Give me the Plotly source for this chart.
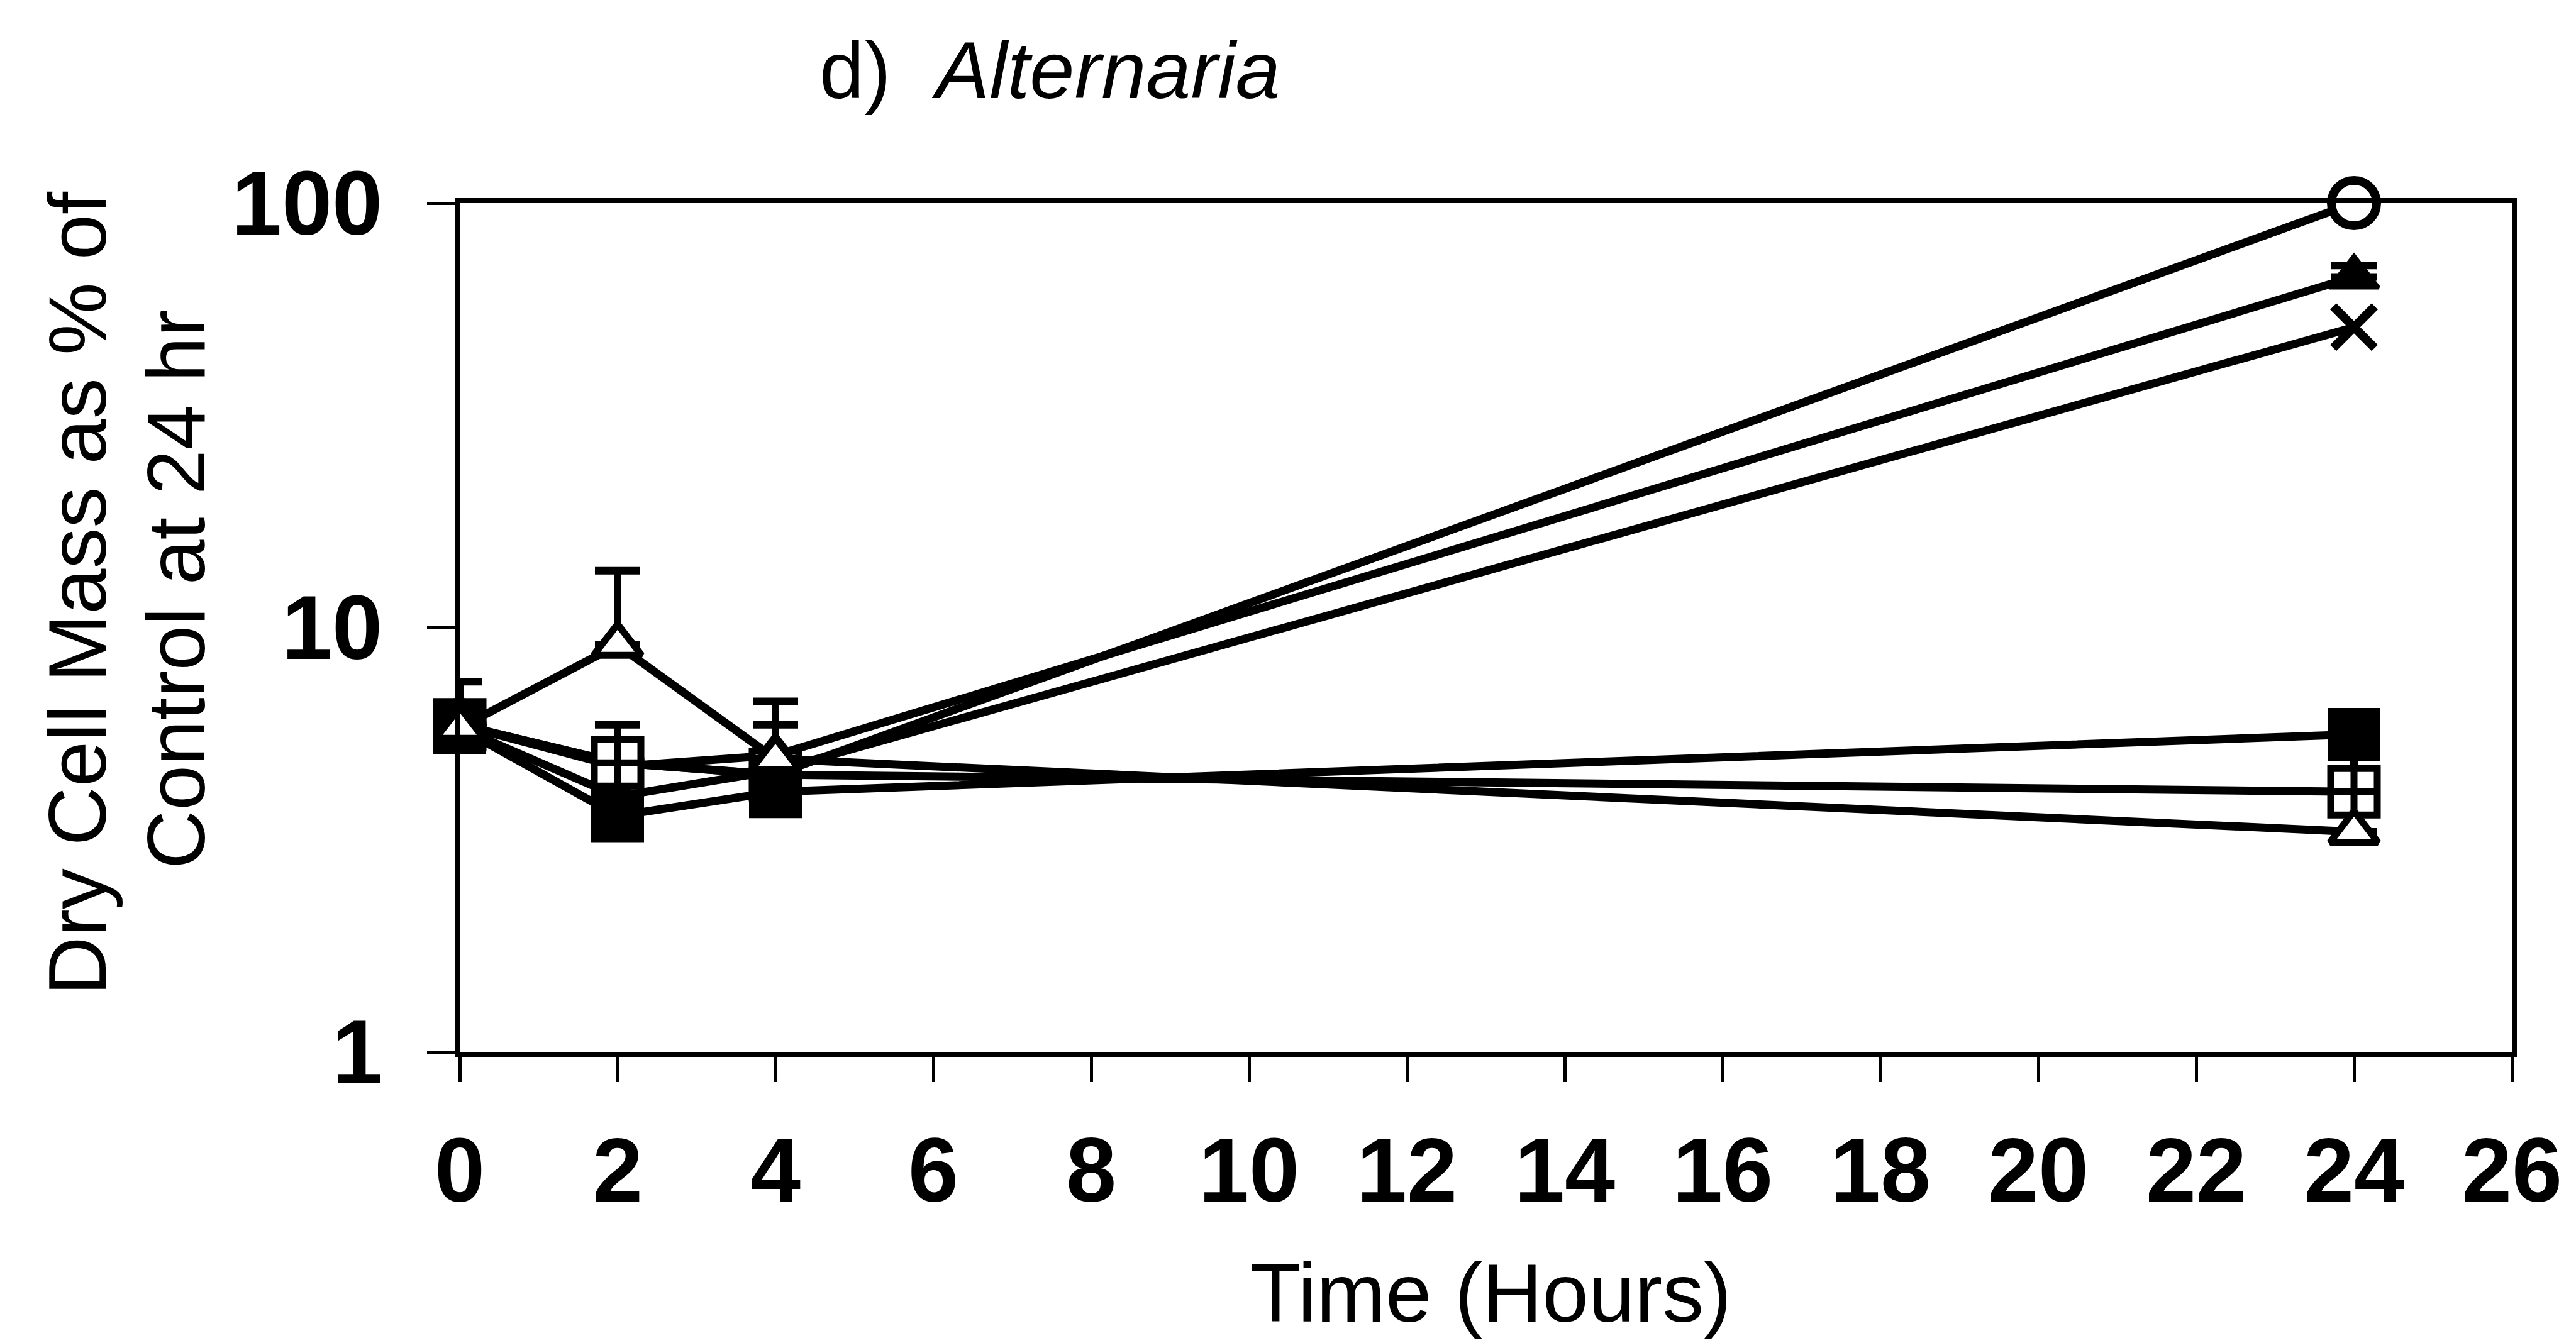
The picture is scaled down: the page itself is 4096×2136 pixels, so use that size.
import plotly.graph_objects as go

# Sampling times (h)
hours = [0, 2, 4, 24]

# Dry cell mass as % of control at 24 h, one list per treatment (by marker)
open_circle = [5.9, 4.8, 4.5, 100]
filled_triangle = [5.9, 4.7, 5.0, 67]
cross = [5.8, 4.0, 4.6, 51]
open_square = [5.9, 4.8, 4.5, 4.1]
filled_square = [5.8, 3.6, 4.1, 5.6]
open_triangle = [5.8, 9.1, 4.9, 3.3]

# Upper error bars (None = no bar drawn)
filled_triangle_err = [None, None, None, 4.3]
open_square_err = [None, 1.1, 1.4, 1.0]
open_triangle_err = [1.65, 4.5, 1.8, None]

x_ticks = list(range(0, 27, 2))
y_ticks = [1, 10, 100]

FONT = "Liberation Sans, Arial, sans-serif"
W, H = 4096, 2136
ML, MR, MT, MB = 731, 102, 323, 463
PW, PH = W - ML - MR, H - MT - MB


def px(x):
    return (x - ML) / PW


def py(y):
    return (H - MB - y) / PH


def series(y, symbol, size, fill, lw, err=None):
    kw = {}
    if err is not None:
        kw["error_y"] = dict(
            type="data", symmetric=False, array=err,
            arrayminus=[0 if e is not None else None for e in err],
            color="black", thickness=12, width=36,
        )
    return go.Scatter(
        x=hours, y=y, mode="lines+markers",
        line=dict(color="black", width=13),
        marker=dict(symbol=symbol, size=size, color=fill,
                    line=dict(color="black", width=lw)),
        cliponaxis=False, showlegend=False, **kw,
    )


fig = go.Figure()
fig.add_trace(series(open_circle, "circle", 72, "white", 14))
fig.add_trace(series(cross, "x-thin", 66, "black", 14))
fig.add_trace(series(filled_triangle, "triangle-up", 68, "black", 6, filled_triangle_err))
fig.add_trace(series(open_square, "square-cross", 74, "white", 11, open_square_err))
fig.add_trace(series(filled_square, "square", 78, "black", 6))
fig.add_trace(series(open_triangle, "triangle-up", 66, "white", 11, open_triangle_err))

axis_common = dict(
    ticks="outside", tickwidth=5, tickcolor="black",
    showline=True, linewidth=8, linecolor="black", mirror=True,
    showgrid=False, zeroline=False,
    tickfont=dict(family=FONT, size=144, color="black", weight="bold"),
)

fig.update_layout(
    width=W, height=H,
    margin=dict(l=ML, r=MR, t=MT, b=MB),
    paper_bgcolor="white", plot_bgcolor="white",
    xaxis=dict(range=[0, 26], tickmode="array", tickvals=x_ticks,
               ticktext=[str(t) for t in x_ticks], ticklen=40,
               ticklabelstandoff=17, **axis_common),
    yaxis=dict(type="log", range=[0, 2], tickmode="array", tickvals=y_ticks,
               ticktext=[str(t) for t in y_ticks], ticklen=44,
               ticklabelstandoff=42, **axis_common),
    annotations=[
        dict(text="d)\u00a0\u00a0<i>Alternaria</i>", xref="paper", yref="paper",
             x=px(1301), y=py(112), xanchor="left", yanchor="middle",
             showarrow=False, font=dict(family=FONT, size=128, color="black")),
        dict(text="Time (Hours)", xref="paper", yref="paper",
             x=px(2370), y=py(2056), xanchor="center", yanchor="middle",
             showarrow=False, font=dict(family=FONT, size=132, color="black")),
        dict(text="Dry Cell Mass as % of", xref="paper", yref="paper",
             x=px(122.5), y=py(944), xanchor="center", yanchor="middle",
             textangle=-90, showarrow=False,
             font=dict(family=FONT, size=130, color="black")),
        dict(text="Control at 24 hr", xref="paper", yref="paper",
             x=px(280), y=py(938), xanchor="center", yanchor="middle",
             textangle=-90, showarrow=False,
             font=dict(family=FONT, size=129, color="black")),
    ],
)

fig.write_html("out.html")
